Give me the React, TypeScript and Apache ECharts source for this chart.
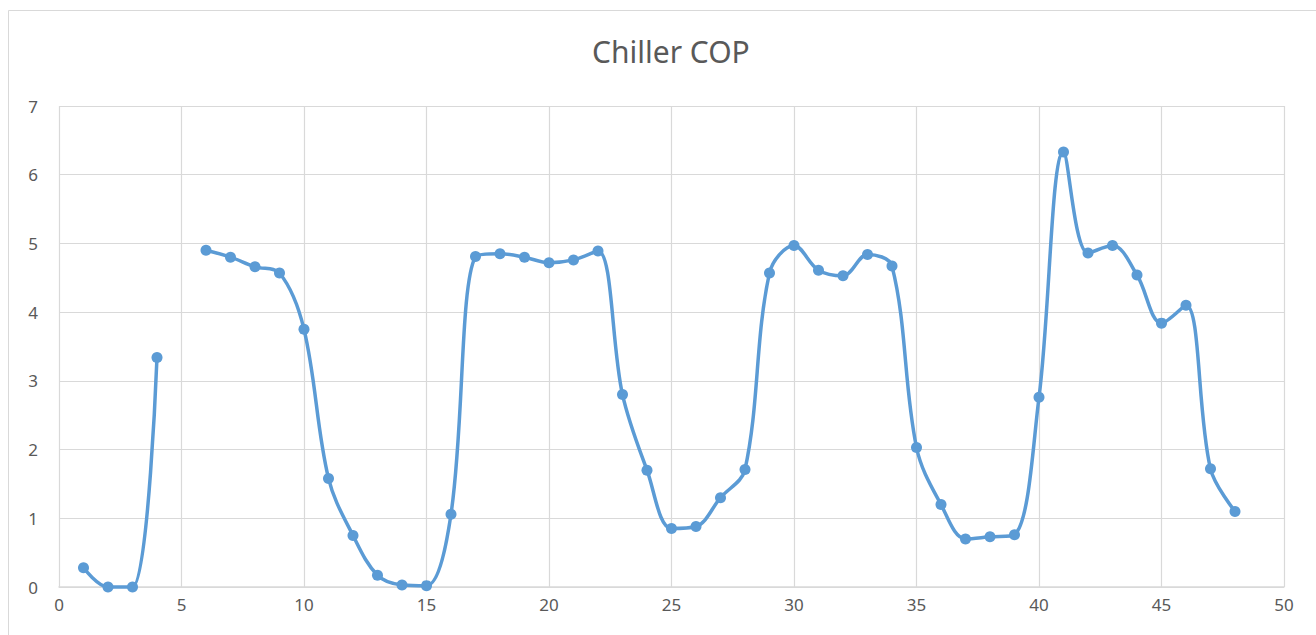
import React, { useEffect, useRef } from "react";
import * as echarts from "echarts";

// Hour index and measured chiller coefficient of performance (null = no reading)
const hours: number[] = [
  1, 2, 3, 4, 5, 6, 7, 8, 9, 10, 11, 12, 13, 14, 15, 16, 17, 18, 19, 20, 21, 22, 23, 24,
  25, 26, 27, 28, 29, 30, 31, 32, 33, 34, 35, 36, 37, 38, 39, 40, 41, 42, 43, 44, 45, 46, 47, 48,
];
const cop: (number | null)[] = [
  0.28, 0.0, 0.0, 3.34, null, 4.9, 4.8, 4.66, 4.57, 3.75, 1.58, 0.75, 0.17, 0.03, 0.02, 1.06,
  4.81, 4.85, 4.8, 4.72, 4.76, 4.89, 2.8, 1.7, 0.85, 0.88, 1.3, 1.71, 4.57, 4.97, 4.61, 4.53,
  4.84, 4.67, 2.03, 1.2, 0.7, 0.73, 0.76, 2.76, 6.33, 4.86, 4.97, 4.54, 3.84, 4.1, 1.72, 1.1,
];
const xTicks = { min: 0, max: 50, interval: 5 };
const yTicks = { min: 0, max: 7, interval: 1 };

const FONT = "'Noto Sans', 'Open Sans', sans-serif";
const TEXT = "#595959";
const GRID = "#d9d9d9";
const BLUE = "#5b9bd5";

export default function App() {
  const ref = useRef<HTMLDivElement>(null);

  useEffect(() => {
    if (!ref.current) return;
    const chart = echarts.init(ref.current, undefined, { renderer: "svg" });
    chart.setOption({
      animation: false,
      backgroundColor: "#ffffff",
      title: {
        text: "Chiller COP",
        left: 587,
        top: 31,
        textStyle: { fontFamily: FONT, fontSize: 30, fontWeight: "normal", color: TEXT },
      },
      graphic: [
        {
          type: "rect",
          shape: { x: 8.5, y: 10.5, width: 1320, height: 640 },
          style: { fill: "none", stroke: GRID, lineWidth: 1 },
          silent: true,
        },
      ],
      grid: { left: 59, right: 32, top: 106, bottom: 48, containLabel: false },
      xAxis: {
        type: "value",
        min: xTicks.min,
        max: xTicks.max,
        interval: xTicks.interval,
        axisLine: { show: true, lineStyle: { color: GRID, width: 1.5 } },
        axisTick: { show: false },
        splitLine: { show: true, lineStyle: { color: GRID, width: 1.2 } },
        axisLabel: { color: TEXT, fontFamily: FONT, fontSize: 17, margin: 9 },
      },
      yAxis: {
        type: "value",
        min: yTicks.min,
        max: yTicks.max,
        interval: yTicks.interval,
        axisLine: { show: false },
        axisTick: { show: false },
        splitLine: { show: true, lineStyle: { color: GRID, width: 1.2 } },
        axisLabel: { color: TEXT, fontFamily: FONT, fontSize: 17, margin: 21 },
      },
      series: [
        {
          type: "line",
          data: hours.map((h, i) => [h, cop[i]]),
          smooth: 0.35,
          connectNulls: false,
          symbol: "circle",
          symbolSize: 11,
          lineStyle: { color: BLUE, width: 3.5 },
          itemStyle: { color: BLUE },
          clip: false,
        },
      ],
    });
    return () => chart.dispose();
  }, []);

  return (
    <div
      ref={ref}
      style={{ position: "absolute", left: 0, top: 0, width: 1316, height: 635 }}
    />
  );
}
